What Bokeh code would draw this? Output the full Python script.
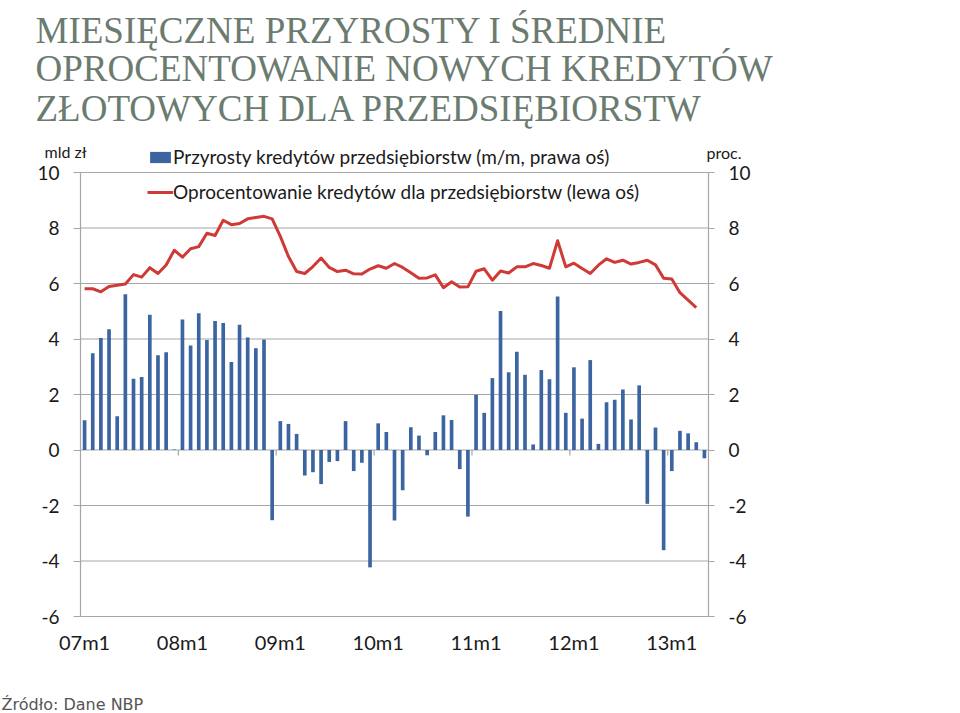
from bokeh.plotting import figure
from bokeh.models import (Range1d, LinearAxis, FixedTicker, Label, Legend,
                          LegendItem)
from bokeh.embed import file_html
from bokeh.resources import INLINE

# ---------------- data ----------------
# monthly change in corporate loans (bn PLN), 2007m1 .. 2013m5 (right axis)
bars_2007 = [1.07, 3.49, 4.04, 4.35, 1.22, 5.61, 2.57, 2.63, 4.87, 3.41, 3.52, 0.02]
bars_2008 = [4.70, 3.77, 4.93, 3.96, 4.65, 4.58, 3.17, 4.51, 4.05, 3.67, 3.98, -2.53]
bars_2009 = [1.04, 0.94, 0.58, -0.92, -0.80, -1.23, -0.43, -0.40, 1.04, -0.76, -0.46, -4.23]
bars_2010 = [0.96, 0.65, -2.54, -1.45, 0.82, 0.52, -0.19, 0.65, 1.25, 1.08, -0.69, -2.40]
bars_2011 = [1.99, 1.34, 2.59, 5.01, 2.80, 3.54, 2.71, 0.20, 2.88, 2.55, 5.53, 1.34]
bars_2012 = [2.98, 1.13, 3.24, 0.22, 1.72, 1.81, 2.18, 1.10, 2.33, -1.94, 0.81, -3.61]
bars_2013 = [-0.76, 0.69, 0.60, 0.28, -0.30]

# interest rate on new corporate loans (%), 2007m1 .. 2013m4 (left axis)
rate_2007 = [5.81, 5.81, 5.70, 5.89, 5.94, 5.98, 6.32, 6.23, 6.57, 6.36, 6.67, 7.20]
rate_2008 = [6.95, 7.25, 7.33, 7.81, 7.73, 8.28, 8.12, 8.16, 8.33, 8.38, 8.42, 8.33]
rate_2009 = [7.70, 6.97, 6.43, 6.36, 6.61, 6.92, 6.58, 6.43, 6.48, 6.35, 6.34, 6.52]
rate_2010 = [6.64, 6.55, 6.72, 6.58, 6.39, 6.19, 6.20, 6.31, 5.85, 6.06, 5.87, 5.88]
rate_2011 = [6.44, 6.53, 6.12, 6.45, 6.38, 6.60, 6.60, 6.72, 6.65, 6.55, 7.54, 6.60]
rate_2012 = [6.73, 6.54, 6.36, 6.66, 6.89, 6.76, 6.84, 6.70, 6.76, 6.84, 6.67, 6.19]
rate_2013 = [6.16, 5.67, 5.40, 5.13]

tick_labels = ["07m1", "08m1", "09m1", "10m1", "11m1", "12m1", "13m1"]
y_ticks = [-6, -4, -2, 0, 2, 4, 6, 8, 10]

bar_label = "Przyrosty kredytów przedsiębiorstw (m/m, prawa oś)"
line_label = "Oprocentowanie kredytów dla przedsiębiorstw (lewa oś)"
title_lines = ["MIESIĘCZNE PRZYROSTY I ŚREDNIE",
               "OPROCENTOWANIE NOWYCH KREDYTÓW",
               "ZŁOTOWYCH DLA PRZEDSIĘBIORSTW"]
left_unit = "mld zł"
right_unit = "proc."
source = "Źródło: Dane NBP"

# ---------------- derived ----------------
bars = bars_2007 + bars_2008 + bars_2009 + bars_2010 + bars_2011 + bars_2012 + bars_2013
rate = rate_2007 + rate_2008 + rate_2009 + rate_2010 + rate_2011 + rate_2012 + rate_2013
bar_x = list(range(len(bars)))
rate_x = list(range(len(rate)))
jan_idx = [12 * k for k in range(len(tick_labels))]
y_tick_text = {t: str(t) for t in y_ticks}   # plain hyphen minus

BLUE = "#3b64a0"
RED = "#cf3a36"
GRID = "#a6a6a6"
LAB = "Lato"

# ---------------- geometry (canvas pixels) ----------------
W, H = 952, 713
PL, PR, PT, PB = 80, 708, 172, 616          # plot area box
x0, x1 = -0.5, len(bars) - 0.5
y0, y1 = y_ticks[0], y_ticks[-1]
sx = (PR - PL) / (x1 - x0)
sy = (PB - PT) / (y1 - y0)
xr = Range1d(x0 - PL / sx, x1 + (W - PR) / sx)
yr = Range1d(y0 - (H - PB) / sy, y1 + PT / sy)

p = figure(width=W, height=H, x_range=xr, y_range=yr, output_backend="svg",
           toolbar_location=None, x_axis_location=None, y_axis_location=None,
           min_border=0, title=None)
p.extra_y_ranges = {"right": Range1d(yr.start, yr.end)}
p.outline_line_color = None
p.background_fill_color = "white"
p.border_fill_color = "white"
p.xgrid.visible = False
p.ygrid.visible = False

# axes fixed at the plot-area edges
la = LinearAxis(fixed_location=x0, bounds=(y0, y1))
ra = LinearAxis(fixed_location=x1, bounds=(y0, y1), y_range_name="right")
p.add_layout(la, "left")
p.add_layout(ra, "right")
for ax, tout in ((la, 7), (ra, 6)):
    ax.ticker = FixedTicker(ticks=y_ticks)
    ax.major_label_overrides = y_tick_text
    ax.axis_line_color = GRID
    ax.axis_line_width = 1.2
    ax.major_tick_line_color = GRID
    ax.major_tick_out = tout
    ax.major_tick_in = 0
    ax.minor_tick_line_color = None
    ax.major_label_standoff = 14
    ax.major_label_text_font = LAB
    ax.major_label_text_font_size = "19px"
    ax.major_label_text_color = "#1a1a1a"

xa = LinearAxis(fixed_location=y0, bounds=(x0, x1),
                ticker=FixedTicker(ticks=jan_idx))
xa.major_label_overrides = {i: t for i, t in zip(jan_idx, tick_labels)}
xa.axis_line_color = None
xa.major_tick_line_color = None
xa.minor_tick_line_color = None
xa.major_label_standoff = 7
xa.major_label_text_font = LAB
xa.major_label_text_font_size = "20px"
xa.major_label_text_color = "#1a1a1a"
p.add_layout(xa, "below")

# horizontal gridlines across the plot area
p.segment(x0=[x0] * len(y_ticks), x1=[x1] * len(y_ticks), y0=y_ticks, y1=y_ticks,
          line_color=GRID, line_width=1.2)

# small category-boundary marks on the zero line
bx = [i - 0.5 for i in jan_idx[1:]]
p.segment(x0=bx, x1=bx, y0=[0] * len(bx), y1=[-0.2] * len(bx),
          line_color=GRID, line_width=1.2)

r_bar = p.vbar(x=bar_x, top=bars, bottom=0, width=0.45, fill_color=BLUE,
               line_color=None, y_range_name="right")
r_line = p.line(x=rate_x, y=rate, line_color=RED, line_width=3,
                line_join="round")

legend = Legend(items=[LegendItem(label=bar_label, renderers=[r_bar]),
                       LegendItem(label=line_label, renderers=[r_line])],
                location=(147, 510), orientation="vertical",
                glyph_width=26, glyph_height=14, label_height=14, spacing=12,
                padding=0, margin=0, label_standoff=0,
                background_fill_alpha=0, border_line_color=None,
                label_text_font=LAB, label_text_font_size="19px",
                label_text_color="#1a1a1a")
p.add_layout(legend, "center")

# titles and texts (canvas coordinates, vertical centre of the text)
for txt, yc in zip(title_lines, [29.5, 67.5, 107.5]):
    p.add_layout(Label(x=35, y=yc, x_units="canvas", y_units="canvas", text=txt,
                       text_font="Liberation Serif", text_font_size="37px",
                       text_color="#6b7b70", text_baseline="middle"))
p.add_layout(Label(x=44, y=151, x_units="canvas", y_units="canvas", text=left_unit,
                   text_font=LAB, text_font_size="16px", text_color="#1a1a1a",
                   text_baseline="middle"))
p.add_layout(Label(x=706, y=152, x_units="canvas", y_units="canvas", text=right_unit,
                   text_font=LAB, text_font_size="16px", text_color="#1a1a1a",
                   text_baseline="middle"))
p.add_layout(Label(x=1, y=704, x_units="canvas", y_units="canvas", text=source,
                   text_font="DejaVu Sans", text_font_size="16px",
                   text_color="#555555", text_baseline="middle"))

open("out.html", "w").write(file_html(p, INLINE))
